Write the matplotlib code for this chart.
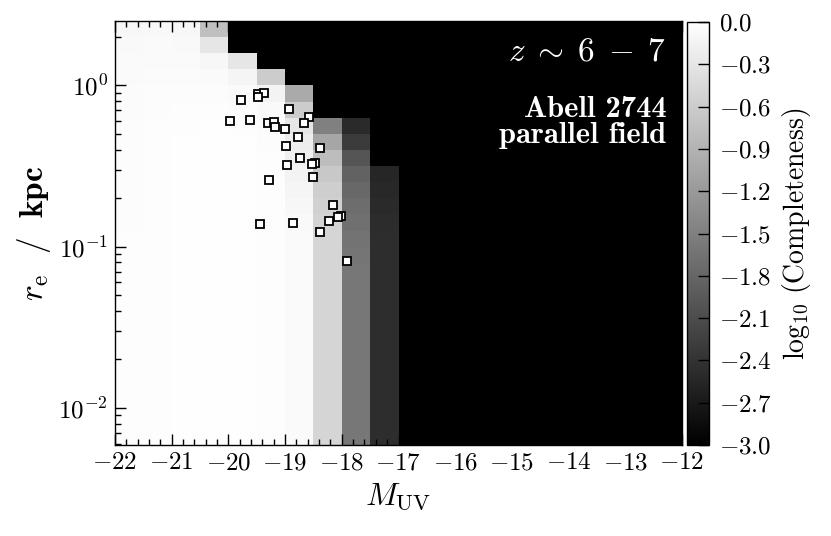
import numpy as np
import matplotlib
matplotlib.use("Agg")
import matplotlib.pyplot as plt
from matplotlib.ticker import FuncFormatter, MultipleLocator, LogLocator, NullFormatter

plt.rcParams['mathtext.fontset'] = 'cm'
plt.rcParams['font.family'] = 'serif'
plt.rcParams['font.serif'] = ['cmr10', 'DejaVu Serif']
plt.rcParams['axes.formatter.use_mathtext'] = True
plt.rcParams['xtick.labelsize'] = 18
plt.rcParams['ytick.labelsize'] = 18

# ---- grid of completeness (log10), magnitude bins and log10(r_e) bins ----
mag_edges = np.arange(-22.0, -11.99, 0.5)          # 21 edges, 20 columns
logr_edges = np.round(np.arange(-2.3, 0.41, 0.1), 2)  # 28 edges, 27 rows

# columns listed from top row (0.3..0.4) down to bottom row (-2.3..-2.2)
col_m22_0 = [-0.10, -0.08, -0.07, -0.06, -0.05, -0.05, -0.04, -0.04, -0.04, -0.04, -0.04, -0.04, -0.04,
             -0.03, -0.03, -0.03, -0.03, -0.03, -0.03, -0.03, -0.03, -0.03, -0.03, -0.03, -0.03, -0.03, -0.03]
col_m21_5 = [-0.09, -0.07, -0.06, -0.05, -0.04, -0.04, -0.03, -0.03, -0.03, -0.03, -0.03, -0.03, -0.03,
             -0.03, -0.03, -0.03, -0.03, -0.03, -0.03, -0.03, -0.03, -0.03, -0.03, -0.03, -0.03, -0.03, -0.03]
col_m21_0 = [-0.10, -0.08, -0.06, -0.05, -0.04, -0.03, -0.03, -0.02, -0.02, -0.02, -0.02, -0.02, -0.02,
             -0.02, -0.02, -0.02, -0.02, -0.02, -0.02, -0.02, -0.02, -0.02, -0.02, -0.02, -0.02, -0.02, -0.02]
col_m20_5 = [-0.75, -0.30, -0.10, -0.06, -0.04, -0.03, -0.02, -0.02, -0.02, -0.02, -0.02, -0.02, -0.02,
             -0.02, -0.02, -0.02, -0.02, -0.02, -0.02, -0.02, -0.02, -0.02, -0.02, -0.02, -0.02, -0.02, -0.02]
col_m20_0 = [-3.00, -3.00, -0.30, -0.12, -0.06, -0.04, -0.03, -0.02, -0.02, -0.02, -0.02, -0.02, -0.02,
             -0.02, -0.02, -0.02, -0.02, -0.02, -0.02, -0.02, -0.02, -0.02, -0.02, -0.02, -0.02, -0.02, -0.02]
col_m19_5 = [-3.00, -3.00, -3.00, -0.60, -0.15, -0.08, -0.05, -0.04, -0.03, -0.03, -0.03, -0.03, -0.03,
             -0.03, -0.03, -0.03, -0.03, -0.03, -0.03, -0.03, -0.03, -0.03, -0.03, -0.03, -0.03, -0.03, -0.03]
col_m19_0 = [-3.00, -3.00, -3.00, -3.00, -1.00, -0.60, -0.30, -0.22, -0.18, -0.15, -0.12, -0.10, -0.08,
             -0.07, -0.06, -0.06, -0.06, -0.06, -0.06, -0.06, -0.06, -0.06, -0.06, -0.06, -0.06, -0.06, -0.06]
col_m18_5 = [-3.00, -3.00, -3.00, -3.00, -3.00, -3.00, -1.50, -1.05, -0.78, -0.65, -0.58, -0.55, -0.52,
             -0.50, -0.50, -0.50, -0.50, -0.50, -0.50, -0.50, -0.50, -0.50, -0.50, -0.50, -0.50, -0.50, -0.50]
col_m18_0 = [-3.00, -3.00, -3.00, -3.00, -3.00, -3.00, -2.50, -2.30, -2.00, -1.85, -1.78, -1.72, -1.68,
             -1.65, -1.62, -1.60, -1.60, -1.60, -1.60, -1.60, -1.60, -1.60, -1.60, -1.60, -1.60, -1.60, -1.60]
col_m17_5 = [-3.00, -3.00, -3.00, -3.00, -3.00, -3.00, -3.00, -3.00, -3.00, -2.55, -2.52, -2.50, -2.48,
             -2.47, -2.47, -2.47, -2.47, -2.47, -2.47, -2.47, -2.47, -2.47, -2.47, -2.47, -2.47, -2.47, -2.47]
col_faint = [-3.00] * 27   # M_UV > -17: undetectable

columns = [col_m22_0, col_m21_5, col_m21_0, col_m20_5, col_m20_0,
           col_m19_5, col_m19_0, col_m18_5, col_m18_0, col_m17_5] + [col_faint] * 10

# ---- observed galaxies ----
gal_muv = [-19.78, -19.47, -19.38, -19.48, -18.93, -18.57, -19.97, -19.62, -19.31, -19.20,
           -19.17, -19.01, -18.67, -18.77, -18.98, -18.39, -18.73, -18.97, -18.48, -18.52,
           -18.50, -19.28, -18.16, -18.01, -18.07, -18.22, -19.44, -18.86, -18.38, -17.90]
gal_re = [0.810, 0.885, 0.900, 0.845, 0.714, 0.640, 0.600, 0.610, 0.585, 0.590,
          0.550, 0.535, 0.582, 0.477, 0.423, 0.411, 0.356, 0.322, 0.331, 0.325,
          0.269, 0.258, 0.181, 0.156, 0.152, 0.144, 0.138, 0.141, 0.124, 0.0816]

cbar_ticks = [-3.0, -2.7, -2.4, -2.1, -1.8, -1.5, -1.2, -0.9, -0.6, -0.3, 0.0]

# ---- figure ----
fig = plt.figure(figsize=(8.31, 5.36), dpi=100)
ax = fig.add_axes([0.1384, 0.1698, 0.6823, 0.7910])
cax = fig.add_axes([0.8267, 0.1698, 0.0265, 0.7890])

Z = np.array(columns).T[::-1]   # rows bottom->top, columns left->right
R_edges = 10.0 ** logr_edges
mesh = ax.pcolormesh(mag_edges, R_edges, Z, cmap='gray', vmin=-3, vmax=0, shading='flat')

ax.plot(gal_muv, gal_re, 's', ms=5.2, mfc='white', mec='black', mew=1.3, ls='none')

ax.set_yscale('log')
ax.set_xlim(-22, -12)
ax.set_ylim(10 ** -2.23, 10 ** 0.4)

ax.xaxis.set_major_locator(MultipleLocator(1))
ax.xaxis.set_minor_locator(MultipleLocator(0.2))
ax.xaxis.set_major_formatter(FuncFormatter(lambda v, p: r'$%d$' % round(v)))
ax.yaxis.set_major_locator(LogLocator(base=10, numticks=10))
ax.yaxis.set_minor_locator(LogLocator(base=10, subs=np.arange(2, 10), numticks=20))
ax.yaxis.set_major_formatter(FuncFormatter(lambda v, p: r'$10^{%d}$' % round(np.log10(v))))
ax.yaxis.set_minor_formatter(NullFormatter())

ax.tick_params(which='both', direction='in', top=True, right=True, width=1.0)
ax.tick_params(which='major', length=8, pad=5, labelsize=18)
ax.tick_params(which='minor', length=4)
for s in ax.spines.values():
    s.set_linewidth(1.0)

ax.set_xlabel(r'$M_{\mathrm{UV}}$', fontsize=23, labelpad=5)
ax.set_ylabel(r'$r_{\mathrm{e}}\ \ \mathbf{/}\ \ \mathbf{kpc}$', fontsize=24, labelpad=4)

ax.text(0.972, 0.928, r'$z\;\sim\;6\;-\;7$', transform=ax.transAxes, color='white',
        fontsize=24, ha='right', va='center')
ax.text(0.972, 0.760, 'Abell 2744\nparallel field',
        transform=ax.transAxes, color='white', fontsize=22, ha='right', va='center',
        multialignment='right', linespacing=0.95, fontfamily='cmb10')

cb = fig.colorbar(mesh, cax=cax, ticks=cbar_ticks)
cb.ax.yaxis.set_major_formatter(FuncFormatter(lambda v, p: r'$%.1f$' % v))
cb.ax.tick_params(direction='in', length=8, width=1.0, labelsize=18, right=True, left=False, pad=7)
cb.outline.set_linewidth(1.0)
cb.set_label(r'$\log_{10}\,(\mathrm{Completeness})$', fontsize=20, labelpad=6)

fig.savefig('out.png', dpi=100)
